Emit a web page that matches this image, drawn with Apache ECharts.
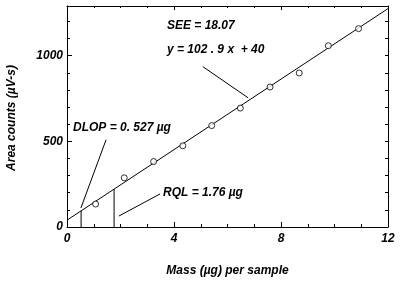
<!DOCTYPE html>
<html><head><meta charset="utf-8">
<script src="https://cdn.jsdelivr.net/npm/echarts@6/dist/echarts.min.js"></script>
<style>html,body{margin:0;padding:0;background:#fff}#c{width:400px;height:285px}</style>
</head><body><div id="c"></div>
<script>
// Data
const massUg = [1.07, 2.14, 3.24, 4.33, 5.41, 6.48, 7.59, 8.68, 9.77, 10.9];
const areaCounts = [134, 287, 382, 474, 592, 694, 817, 899, 1058, 1158];
const fitLine = [[0, 40], [12, 1274.8]];           // y = 102.9x + 40
const dlopLine = [[0.527, 0], [0.527, 94.2]];
const rqlLine = [[1.76, 0], [1.76, 221.1]];
const dlopLeader = [[0.52, 111], [1.46, 509]];
const eqLeader = [[5.08, 936], [6.77, 754]];
const rqlLeader = [[1.94, 64], [3.48, 193]];
const xTicks = [0, 4, 8, 12];
const yTicks = [0, 500, 1000];

const FONT = '"Liberation Sans", Arial, sans-serif';
const txt = {fontFamily: FONT, fontStyle: 'italic', fontWeight: 'bold', fontSize: 12, color: '#000'};

const chart = echarts.init(document.getElementById('c'));
const lineS = (d) => ({type: 'line', data: d, symbol: 'none', silent: true,
  lineStyle: {color: '#000', width: 1}, xAxisIndex: 0, yAxisIndex: 0, z: 3});

chart.setOption({
  animation: false,
  grid: {left: 67, right: 12, top: 6, bottom: 58},
  xAxis: [
    {type: 'value', min: 0, max: 12, interval: 4, position: 'bottom',
     name: 'Mass (µg) per sample', nameLocation: 'middle', nameGap: 38,
     nameTextStyle: txt,
     axisLine: {onZero: false, lineStyle: {color: '#000', width: 1}},
     axisTick: {inside: true, length: 5, lineStyle: {color: '#000'}},
     minorTick: {show: true, splitNumber: 4, length: 3, lineStyle: {color: '#000'}},
     axisLabel: Object.assign({margin: 6, formatter: v => xTicks.includes(v) ? String(v) : ''}, txt),
     splitLine: {show: false}},
    {type: 'value', min: 0, max: 12, interval: 4, position: 'top',
     axisLine: {onZero: false, lineStyle: {color: '#000', width: 1}},
     axisTick: {inside: true, length: 4, lineStyle: {color: '#000'}},
     minorTick: {show: true, splitNumber: 4, length: 2, lineStyle: {color: '#000'}},
     axisLabel: {show: false}, splitLine: {show: false}}
  ],
  yAxis: [
    {type: 'value', min: 0, max: 1290, interval: 500, position: 'left',
     axisLine: {onZero: false, lineStyle: {color: '#000', width: 1}},
     axisTick: {inside: true, length: 5, lineStyle: {color: '#000'}},
     axisLabel: Object.assign({margin: 4, showMaxLabel: false,
       formatter: v => yTicks.includes(v) ? String(v) : ''}, txt),
     splitLine: {show: false}},
    {type: 'value', min: 0, max: 1290, interval: 100, position: 'left',
     axisLine: {show: false},
     axisTick: {inside: true, length: 3, lineStyle: {color: '#000'}},
     axisLabel: {show: false}, splitLine: {show: false}},
    {type: 'value', min: 0, max: 1290, interval: 100, position: 'right',
     axisLine: {onZero: false, lineStyle: {color: '#000', width: 1}},
     axisTick: {inside: true, length: 3, lineStyle: {color: '#000'}},
     axisLabel: {show: false}, splitLine: {show: false}}
  ],
  series: [
    lineS(fitLine), lineS(dlopLine), lineS(rqlLine),
    lineS(dlopLeader), lineS(eqLeader), lineS(rqlLeader),
    {type: 'scatter', data: massUg.map((x, i) => [x, areaCounts[i]]),
     symbol: 'circle', symbolSize: 6, z: 5,
     itemStyle: {color: '#fff', borderColor: '#000', borderWidth: 1}}
  ],
  graphic: [
    {type: 'text', x: 12, y: 118, rotation: Math.PI / 2,
     style: {text: 'Area counts (µV-s)', align: 'center', verticalAlign: 'middle', fill: '#000',
       font: 'italic bold 12px ' + FONT}},
    {type: 'text', x: 167, y: 26, style: {text: 'SEE = 18.07', verticalAlign: 'middle', fill: '#000', font: 'italic bold 12px ' + FONT}},
    {type: 'text', x: 167, y: 50, style: {text: 'y = 102 . 9 x  + 40', verticalAlign: 'middle', fill: '#000', font: 'italic bold 12px ' + FONT}},
    {type: 'text', x: 73, y: 128, style: {text: 'DLOP = 0. 527 µg', verticalAlign: 'middle', fill: '#000', font: 'italic bold 12px ' + FONT}},
    {type: 'text', x: 163, y: 193, style: {text: 'RQL = 1.76 µg', verticalAlign: 'middle', fill: '#000', font: 'italic bold 12px ' + FONT}}
  ]
});
</script></body></html>
